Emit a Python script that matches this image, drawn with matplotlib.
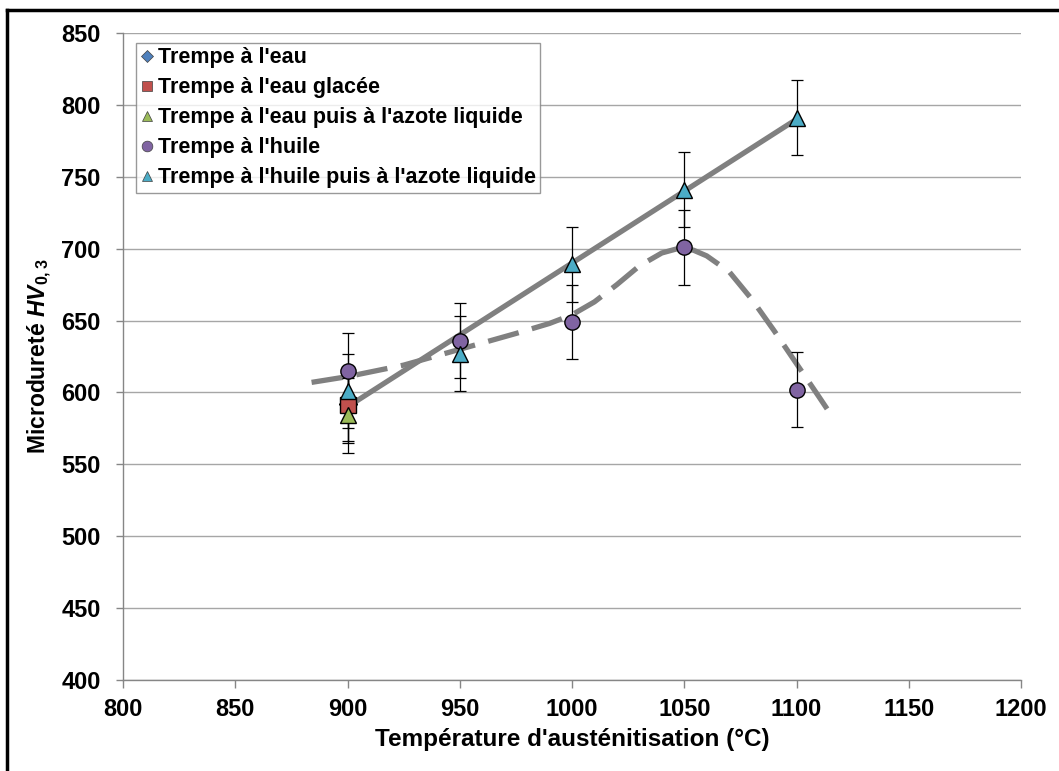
import matplotlib.pyplot as plt
from matplotlib.lines import Line2D
import numpy as np

plt.rcParams['font.family'] = ['Liberation Sans', 'DejaVu Sans']
plt.rcParams['font.weight'] = 'bold'
plt.rcParams['mathtext.fontset'] = 'custom'
plt.rcParams['mathtext.rm'] = 'Liberation Sans:bold'
plt.rcParams['mathtext.it'] = 'Liberation Sans:italic:bold'


class Colors():
    BLUE = '#4f81bd'
    RED = '#c0504d'
    GREEN = '#9bbb59'
    PURPLE = '#8064a2'
    CYAN = '#4bacc6'
    TREND = '#808080'
    GRID = '#a6a6a6'
    AXIS = '#868686'


# data
eau_x = [900]
eau_y = [592]
eau_glacee_x = [900]
eau_glacee_y = [591]
eau_azote_x = [900]
eau_azote_y = [584]
huile_x = [900, 950, 1000, 1050, 1100]
huile_y = [615, 636, 649, 701, 602]
huile_azote_x = [900, 950, 1000, 1050, 1100]
huile_azote_y = [601, 627, 689, 741, 791]
err = 26

# trend lines
lin_x = [900, 1100]
lin_y = [590, 790]
curve_x = [884, 900, 925, 950, 975, 990, 1000, 1010, 1020, 1030, 1040, 1047,
           1054, 1060, 1070, 1080, 1090, 1100, 1110, 1116]
curve_y = [607, 611, 619, 630, 641, 648, 654, 663, 675, 688, 697, 700,
           699, 695, 684, 665, 643, 620, 597, 583]

series = [
    (eau_x, eau_y, 'D', Colors.BLUE, "Trempe à l'eau", 9),
    (eau_glacee_x, eau_glacee_y, 's', Colors.RED, "Trempe à l'eau glacée", 11),
    (eau_azote_x, eau_azote_y, '^', Colors.GREEN, "Trempe à l'eau puis à l'azote liquide", 11),
    (huile_x, huile_y, 'o', Colors.PURPLE, "Trempe à l'huile", 11),
    (huile_azote_x, huile_azote_y, '^', Colors.CYAN, "Trempe à l'huile puis à l'azote liquide", 11),
]

fig = plt.figure(figsize=(10.59, 7.71), dpi=100)
ax = fig.add_axes([123 / 1059, 1 - 680 / 771, 898 / 1059, 647 / 771])

ax.plot(lin_x, lin_y, color=Colors.TREND, lw=3.8, solid_capstyle='butt', zorder=2)
ax.plot(curve_x, curve_y, color=Colors.TREND, lw=3.8, linestyle=(0, (6, 2.6)),
        dash_capstyle='butt', solid_joinstyle='round', zorder=2)

handles = []
for i, (xs, ys, m, c, lab, ms) in enumerate(series):
    ax.errorbar(xs, ys, yerr=err, fmt='none', ecolor='black', elinewidth=0.9,
                capsize=4.5, capthick=0.9, zorder=3)
    ax.plot(xs, ys, linestyle='none', marker=m, markersize=ms, markerfacecolor=c,
            markeredgecolor='black', markeredgewidth=1.0, zorder=4 + i * 0.1)
    handles.append(Line2D([], [], linestyle='none', marker=m, markersize=ms * 0.7,
                          markerfacecolor=c, markeredgecolor='#404040', markeredgewidth=0.5,
                          label=lab))

ax.set_xlim(800, 1200)
ax.set_ylim(400, 850)
ax.set_xticks(np.arange(800, 1201, 50))
ax.set_yticks(np.arange(400, 851, 50))
ax.grid(axis='y', color=Colors.GRID, lw=1.0)
ax.set_axisbelow(True)
for side in ['top', 'right']:
    ax.spines[side].set_visible(False)
for side in ['left', 'bottom']:
    ax.spines[side].set_color(Colors.AXIS)
    ax.spines[side].set_linewidth(1.0)
ax.tick_params(axis='both', direction='out', color=Colors.AXIS, width=1.0, labelsize=17)
ax.tick_params(axis='y', length=5, pad=11)
ax.tick_params(axis='x', length=6, pad=7)

ax.set_xlabel("Température d'austénitisation (°C)", fontsize=17.5, fontweight='bold', labelpad=5)
ax.set_ylabel(r"Microdureté $\mathit{HV}_{\mathit{0,3}}$", fontsize=16.5, fontweight='bold', labelpad=5)

leg = ax.legend(handles=handles, loc='upper left', bbox_to_anchor=(13 / 898, 1 - 10 / 647),
                fontsize=15.5, frameon=True, fancybox=False, handlelength=0.6,
                handletextpad=0.2, borderpad=0.2, labelspacing=0.42, borderaxespad=0)
leg.get_frame().set_edgecolor('#808080')
leg.get_frame().set_linewidth(1.0)
for t in leg.get_texts():
    t.set_fontweight('bold')

# chart border (top and left visible)
fig.add_artist(Line2D([7 / 1059, 7 / 1059], [0, 1 - 10 / 771], color='black', lw=2.5,
                      transform=fig.transFigure))
fig.add_artist(Line2D([7 / 1059, 1], [1 - 10 / 771, 1 - 10 / 771], color='black', lw=2.5,
                      transform=fig.transFigure))

fig.savefig('out.png', dpi=100)
